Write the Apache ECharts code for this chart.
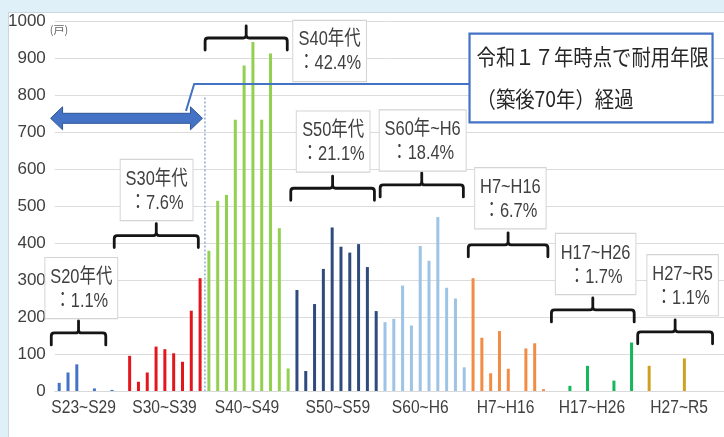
<!DOCTYPE html>
<html><head><meta charset="utf-8">
<script src="https://cdn.jsdelivr.net/npm/echarts@6/dist/echarts.min.js"></script>
<style>
html,body{margin:0;padding:0;background:#dff0f9;width:724px;height:437px;overflow:hidden;}
#panel{position:absolute;left:8px;top:12px;width:740px;height:440px;background:#fff;border:1px solid #cdd6dc;}
#chart{position:absolute;left:0;top:0;width:724px;height:437px;}
</style></head><body>
<div id="panel"></div><div id="chart"></div>
<script>
// ---- categories (construction year) per group ----
const s20Years = ['S23','S24','S25','S26','S27','S28','S29'];
const s30Years = ['S30','S31','S32','S33','S34','S35','S36','S37','S38','S39'];
const s40Years = ['S40','S41','S42','S43','S44','S45','S46','S47','S48','S49'];
const s50Years = ['S50','S51','S52','S53','S54','S55','S56','S57','S58','S59'];
const s60Years = ['S60','S61','S62','S63','H1','H2','H3','H4','H5','H6'];
const h7Years  = ['H7','H8','H9','H10','H11','H12','H13','H14','H15','H16'];
const h17Years = ['H17','H18','H19','H20','H21','H22','H23','H24','H25','H26'];
const h27Years = ['H27','H28','H29','H30','R1','R2','R3','R4','R5'];

// ---- values (戸) ----
const s20Values = [22, 50, 72, 0, 7, 0, 3];
const s30Values = [0, 95, 25, 50, 120, 113, 102, 79, 217, 305];
const s40Values = [379, 514, 530, 733, 880, 943, 733, 912, 440, 61];
const s50Values = [273, 54, 235, 330, 442, 390, 374, 397, 335, 216];
const s60Values = [186, 195, 285, 177, 392, 352, 470, 279, 250, 64];
const h7Values  = [305, 144, 48, 162, 60, 0, 115, 129, 5, 0];
const h17Values = [0, 14, 0, 68, 0, 0, 28, 0, 131, 0];
const h27Values = [68, 0, 0, 0, 88, 0, 0, 0, 0];

// ---- group texts ----
const groupNames = ['S23~S29','S30~S39','S40~S49','S50~S59','S60~H6','H7~H16','H17~H26','H27~R5'];
const boxTitles  = ['S20年代','S30年代','S40年代','S50年代','S60年~H6','H7~H16','H17~H26','H27~R5'];
const sharePct   = ['1.1%','7.6%','42.4%','21.1%','18.4%','6.7%','1.7%','1.1%'];
const calloutLines = ['令和１７年時点で耐用年限', '（築後70年）経過'];
const yUnit = '(戸)';

// ---- styles / annotation layout (data units) ----
const groupColors = ['#4472C4','#E3161E','#92D050','#2F4A7C','#9DC3E6','#F28C45','#12B85A','#CFA122'];
const bracketSpan = [[-0.9,5.29,157],[6.25,15.8,420],[16.57,25.9,954],[26.3,35.8,548],[36.45,45.9,557],[46.46,55.5,395],[55.9,65.3,219],[65.7,74.2,160]];
const boxAnchor   = [[2.51,197],[11.06,462],[30.71,838],[31.11,593],[41.28,596],[51.24,440],[60.92,262],[70.8,205]];
const groupLabelAt = [2.77,11.96,21.33,31.64,41.0,50.7,60.5,70.4];

const groupYears = [s20Years,s30Years,s40Years,s50Years,s60Years,h7Years,h17Years,h27Years];
const groupValues = [s20Values,s30Values,s40Values,s50Values,s60Values,h7Values,h17Values,h27Values];

const categories = [];
const barData = [];
groupYears.forEach((ys, g) => {
  ys.forEach((y, k) => {
    categories.push(y);
    barData.push({ value: groupValues[g][k], itemStyle: { color: groupColors[g] } });
  });
});
const nCat = categories.length;

const LAT = '"Liberation Sans",Arial,sans-serif';
const BOXFONT = '"Liberation Sans","Noto Sans CJK JP",sans-serif';
const CJK = '"Noto Sans CJK JP",sans-serif';

function renderBracket(params, api) {
  const i = params.dataIndex;
  const b = bracketSpan[i];
  const p0 = api.coord([b[0], b[2]]);
  const p1 = api.coord([b[1], b[2]]);
  const y = p0[1], x0 = p0[0], x1 = p1[0], cx = (x0 + x1) / 2;
  const pa = api.coord(boxAnchor[i]);
  const d = 'M' + x0 + ' ' + (y + 12) + ' L' + x0 + ' ' + (y + 3) + ' Q' + x0 + ' ' + y + ' ' + (x0 + 3) + ' ' + y +
            ' L' + (cx - 3) + ' ' + y + ' Q' + cx + ' ' + y + ' ' + cx + ' ' + (y - 3) + ' L' + cx + ' ' + (y - 12) +
            ' M' + cx + ' ' + (y - 3) + ' Q' + cx + ' ' + y + ' ' + (cx + 3) + ' ' + y +
            ' L' + (x1 - 3) + ' ' + y + ' Q' + x1 + ' ' + y + ' ' + x1 + ' ' + (y + 3) + ' L' + x1 + ' ' + (y + 12);
  return {
    type: 'group',
    children: [
      { type: 'path', shape: { pathData: d }, style: { stroke: '#151515', lineWidth: 2.8, fill: null, lineCap: 'round', lineJoin: 'round' } },
      { type: 'text', x: pa[0], y: pa[1], scaleX: 0.82, z2: 10,
        style: { text: boxTitles[i] + '\n：' + sharePct[i], font: '20px ' + BOXFONT, fill: '#404040',
                 lineHeight: 24, align: 'center', verticalAlign: 'bottom',
                 backgroundColor: '#fff', borderColor: '#d4d4d4', borderWidth: 1.2, padding: [7, 6, 5, 6] } }
    ]
  };
}

function renderGroupLabel(params, api) {
  const i = params.dataIndex;
  const p = api.coord([groupLabelAt[i], 0]);
  return { type: 'text', x: p[0], y: p[1] + 7, scaleX: 0.82,
    style: { text: groupNames[i], font: '19px ' + LAT, fill: '#404040', align: 'center', verticalAlign: 'top' } };
}

function renderCallout(params, api) {
  // unit label next to the top of the value axis
  const u = api.coord([-0.5, 1000]);
  // double arrow over the S23..S39 range
  const a0 = api.coord([-0.98, 737]);
  const a1 = api.coord([16.27, 737]);
  const y = a0[1], xl = a0[0], xr = a1[0];
  const hl = 12, hh = 11.5, bh = 5;
  const arrow = [[xl, y], [xl + hl, y - hh], [xl + hl, y - bh], [xr - hl, y - bh], [xr - hl, y - hh], [xr, y],
                 [xr - hl, y + hh], [xr - hl, y + bh], [xl + hl, y + bh], [xl + hl, y + hh]];
  const dTop = api.coord([16.55, 793]);
  const dBot = api.coord([16.55, 0]);
  const l0 = api.coord([46.6, 830]);
  const l1 = api.coord([15.33, 830]);
  const l2 = api.coord([14.4, 757]);
  const bTL = api.coord([46.6, 966]);
  const bBR = api.coord([74.2, 726]);
  const bw = bBR[0] - bTL[0], bhgt = bBR[1] - bTL[1];
  return {
    type: 'group',
    children: [
      { type: 'text', x: u[0] - 5, y: u[1] + 9,
        style: { text: yUnit, font: '11px ' + CJK, fill: '#666', align: 'left', verticalAlign: 'middle' } },
      { type: 'line', shape: { x1: dTop[0], y1: dTop[1], x2: dBot[0], y2: dBot[1] },
        style: { stroke: '#8FAADC', lineWidth: 1.5, lineDash: [2, 2] } },
      { type: 'polygon', shape: { points: arrow }, style: { fill: '#4472C4', stroke: '#2F5597', lineWidth: 1 } },
      { type: 'polyline', shape: { points: [l0, l1, l2] }, style: { stroke: '#4472C4', lineWidth: 2, fill: null } },
      { type: 'rect', shape: { x: bTL[0], y: bTL[1], width: bw, height: bhgt },
        style: { fill: '#fff', stroke: '#4472C4', lineWidth: 2.2 } },
      { type: 'text', x: bTL[0] + 7, y: bTL[1] + 23, scaleX: 0.88,
        style: { text: calloutLines[0], font: '22px ' + CJK, fill: '#262626', align: 'left', verticalAlign: 'middle' } },
      { type: 'text', x: bTL[0] + 7, y: bTL[1] + 65, scaleX: 0.88,
        style: { text: calloutLines[1], font: '22px ' + CJK, fill: '#262626', align: 'left', verticalAlign: 'middle' } }
    ]
  };
}

const chart = echarts.init(document.getElementById('chart'), null, { renderer: 'canvas' });
chart.setOption({
  animation: false,
  backgroundColor: 'transparent',
  grid: { left: 54.8, right: -5.9, top: 21, bottom: 46, containLabel: false },
  xAxis: [
    { type: 'category', data: categories, boundaryGap: true,
      axisLine: { lineStyle: { color: '#d9d9d9', width: 1 } }, axisTick: { show: false }, axisLabel: { show: false } },
    { type: 'value', min: -0.5, max: nCat - 0.5, show: false }
  ],
  yAxis: {
    type: 'value', min: 0, max: 1000, interval: 100,
    axisLine: { show: false }, axisTick: { show: false },
    axisLabel: { fontSize: 17, fontFamily: LAT, color: '#404040', margin: 9, formatter: v => String(v) },
    splitLine: { lineStyle: { color: '#dcdcdc', width: 1 } }
  },
  series: [
    { type: 'bar', data: barData, barWidth: 3, xAxisIndex: 0, z: 2 },
    { type: 'custom', xAxisIndex: 1, data: groupNames.map((_, i) => i), renderItem: renderGroupLabel, clip: false, z: 3, silent: true },
    { type: 'custom', xAxisIndex: 1, data: [0], renderItem: renderCallout, clip: false, z: 4, silent: true },
    { type: 'custom', xAxisIndex: 1, data: groupNames.map((_, i) => i), renderItem: renderBracket, clip: false, z: 5, silent: true }
  ]
});
</script>
</body></html>
